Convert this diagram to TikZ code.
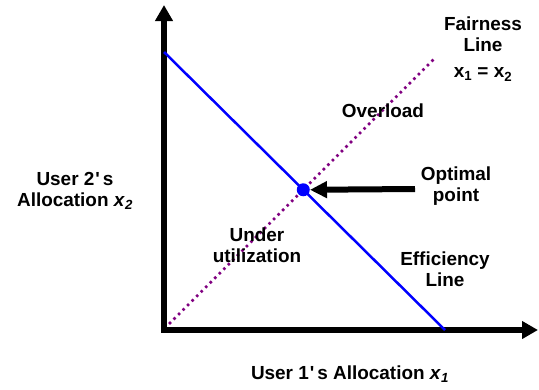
\documentclass[tikz,border=0pt]{standalone}
\usepackage{fontspec}
\setmainfont{Liberation Sans}
\usetikzlibrary{arrows.meta}
\newcommand{\aps}{\kern1bp\textquotesingle\kern3bp}
\begin{document}
\begin{tikzpicture}[x=1bp,y=-1bp,
  font=\fontsize{19}{21}\selectfont\bfseries,
  axis/.style={line width=5.5bp, line join=miter,
    {Triangle[length=16bp,width=17bp]}-{Triangle[length=16bp,width=17bp]}},
  effline/.style={blue, line width=2.5bp},
  fairline/.style={draw={rgb,255:red,128;green,0;blue,128}, line width=3.6bp,
    line cap=round, dash pattern=on 0pt off 6.4bp},
  pointer/.style={line width=6bp, -{Triangle[length=17bp,width=16bp]}},
  lbl/.style={align=center, inner sep=0pt}]
\useasboundingbox (0,0) rectangle (539,389);

% axes
\coordinate (ytip) at (164,5);
\coordinate (O) at (164,330);
\coordinate (xtip) at (538,330);
\draw[axis] (ytip) -- (O) -- (xtip);

% efficiency and fairness lines
\coordinate (effA) at (164,52);
\coordinate (effB) at (445,330);
\coordinate (fairA) at (170,323);
\coordinate (fairB) at (433,60);
\draw[effline] (effA) -- (effB);
\draw[fairline] (fairA) -- (fairB);

% optimal point
\coordinate (opt) at (intersection of effA--effB and fairA--fairB);
\node[circle, fill=blue, inner sep=0pt, minimum size=13bp] (dot) at (opt) {};
\coordinate (pstart) at (415,189);
\draw[pointer] (pstart) -- (dot.east);

% labels
\node[lbl, anchor=north] (fair) at (483,17) {Fairness\\Line\\[5bp]x\textsubscript{1} = x\textsubscript{2}};
\node[lbl] (over) at (383,111) {Overload};
\node[lbl] (optl) at (456,186) {Optimal\\point};
\node[lbl] (under) at (257,245) {Under\\utilization};
\node[lbl] (eff) at (445,269) {Efficiency\\Line};
\node[lbl] (ylab) at (75,191) {User 2\aps s\\Allocation \textit{x}\textsubscript{\textit{2}}};
\node[lbl] (xlab) at (350,374) {User 1\aps s Allocation \textit{x}\textsubscript{\textit{1}}};
\end{tikzpicture}
\end{document}
